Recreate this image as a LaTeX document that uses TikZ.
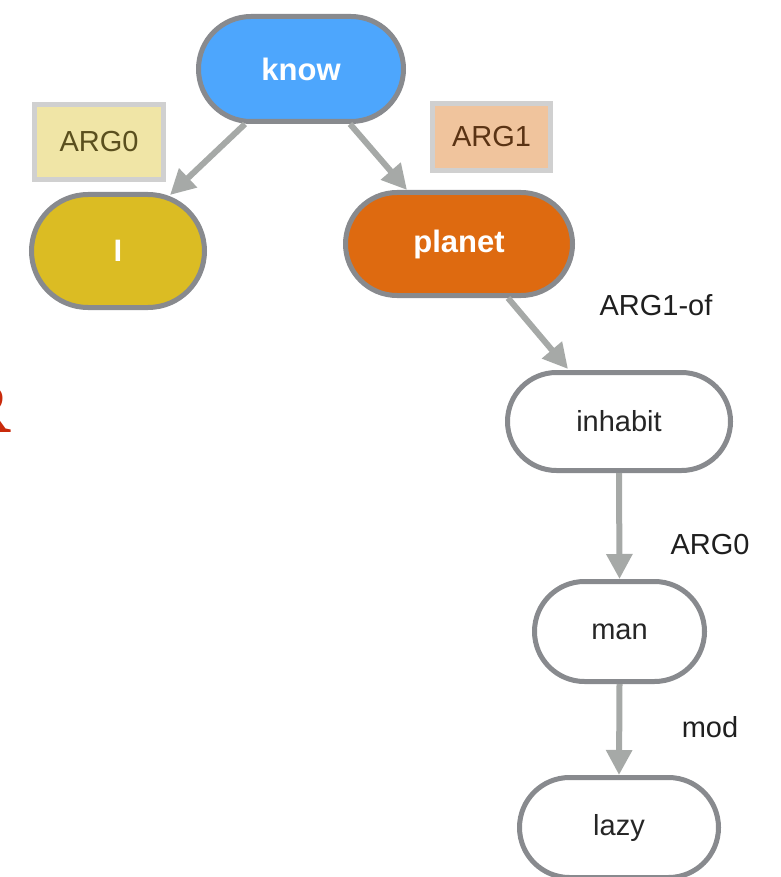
\documentclass[tikz,border=0pt]{standalone}
\usepackage{fontspec}
\setmainfont{Liberation Sans}
\newfontfamily\rserif{Liberation Serif}
\usetikzlibrary{shapes.misc,arrows.meta}
\definecolor{nodeborder}{HTML}{888A8E}
\definecolor{arrowgray}{HTML}{A6A9A7}
\definecolor{knowblue}{HTML}{4DA6FD}
\definecolor{iyellow}{HTML}{DBBC23}
\definecolor{planetorange}{HTML}{DE6A10}
\definecolor{argzero}{HTML}{F0E5A6}
\definecolor{argone}{HTML}{F0C49D}
\definecolor{boxborder}{HTML}{D0D0D0}
\definecolor{argzerotext}{HTML}{5A4F1E}
\definecolor{argonetext}{HTML}{5A3314}
\definecolor{redR}{HTML}{C92A0B}
\tikzset{
  concept/.style={rounded rectangle, draw=nodeborder, line width=5pt, inner sep=0pt,
    font=\fontsize{29}{34}\selectfont, text=black!85},
  colored/.style={concept, text=white, font=\fontsize{31}{36}\selectfont\bfseries},
  rolebox/.style={rectangle, draw=boxborder, line width=5pt, inner sep=0pt,
    font=\fontsize{29}{34}\selectfont},
  edgelabel/.style={inner sep=0pt, font=\fontsize{29}{34}\selectfont, text=black!88},
  link/.style={draw=arrowgray, line width=6pt, -{Triangle[width=25pt,length=25pt]}}
}
\begin{document}
\begin{tikzpicture}[x=1pt,y=-1pt]
\useasboundingbox (0,0) rectangle (780,877);
% cropped letter at left edge
\node[anchor=base east, inner sep=0pt, text=redR, font=\fontsize{72}{74}\selectfont\rserif\bfseries] (frag) at (11,432) {R};
% concept nodes
\node[colored, fill=knowblue, minimum width=205pt, minimum height=105pt] (know) at (301,69) {know};
\node[colored, fill=iyellow, minimum width=173pt, minimum height=113pt] (I) at (118,251) {I};
\node[colored, fill=planetorange, minimum width=227pt, minimum height=103pt] (planet) at (459,244) {planet};
\node[concept, fill=white, minimum width=223pt, minimum height=98pt] (inhabit) at (619,421.5) {inhabit};
\node[concept, fill=white, minimum width=170pt, minimum height=100pt] (man) at (619.5,631.5) {man};
\node[concept, fill=white, minimum width=199pt, minimum height=100pt] (lazy) at (619,827.5) {lazy};
% role boxes
\node[rolebox, fill=argzero, text=argzerotext, minimum width=129pt, minimum height=75pt] (arg0box) at (99,142) {ARG0};
\node[rolebox, fill=argone, text=argonetext, minimum width=118pt, minimum height=67pt] (arg1box) at (491.5,137) {ARG1};
% edge labels
\node[edgelabel] (l1) at (656,305) {ARG1-of};
\node[edgelabel] (l2) at (710,545) {ARG0};
\node[edgelabel] (l3) at (710,727) {mod};
% connectors
\draw[link] ([xshift=-56pt]know.south) -- ([xshift=52pt,yshift=-3pt]I.north);
\draw[link] ([xshift=49pt]know.south) -- ([xshift=-52pt]planet.north);
\draw[link] ([xshift=49pt]planet.south) -- ([xshift=-51pt,yshift=1pt]inhabit.north);
\draw[link] (inhabit.south) -- (man.north);
\draw[link] (man.south) -- (lazy.north);
\end{tikzpicture}
\end{document}
